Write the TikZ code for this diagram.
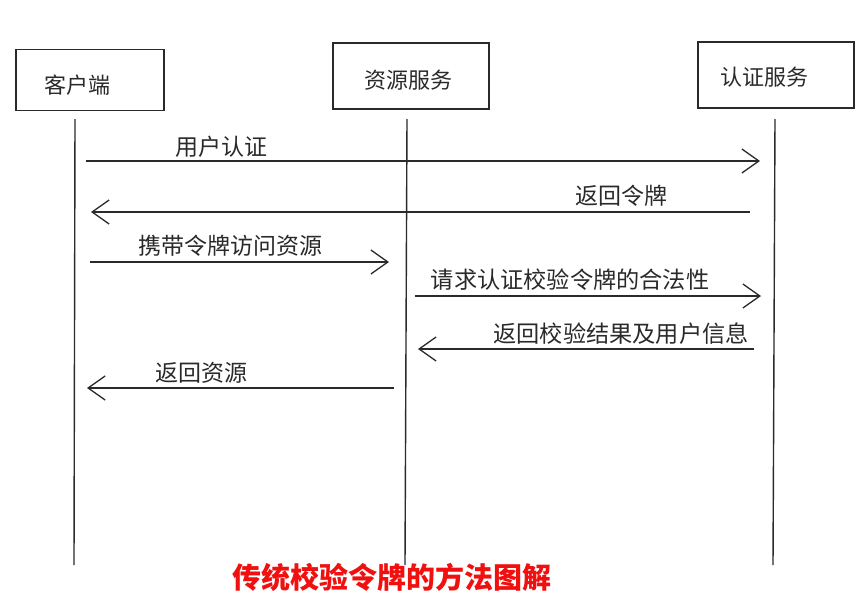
\documentclass[tikz,border=0pt]{standalone}
\usepackage{fontspec}
\setmainfont{Noto Sans CJK SC}
\usetikzlibrary{arrows.meta}
\definecolor{ink}{HTML}{2A2A2A}
\definecolor{titlered}{HTML}{F01010}
\tikzset{
  actor/.style={draw=ink, line width=1.4pt, minimum width=#1, inner sep=0pt},
  actortext/.style={inner sep=0pt, font=\fontsize{22}{24}\selectfont, text=ink},
  life/.style={draw=ink, line width=1.4pt},
  msg/.style={draw=ink, line width=1.3pt, -{Straight Barb[length=17pt, width=24pt, line width=1.3pt]}},
  lbl/.style={inner sep=0pt, font=\fontsize{23}{25}\selectfont, text=ink},
  lblb/.style={inner sep=0pt, font=\fontsize{23.2}{25}\selectfont, text=ink},
  titletext/.style={inner sep=0pt, text=titlered, font=\bfseries\fontsize{29}{31}\selectfont}
}
\begin{document}
\begin{tikzpicture}[x=1pt,y=-1pt]
\useasboundingbox[fill=white] (0,0) rectangle (868,606);
% actor boxes
\node[actor=148pt, minimum height=61pt] (client) at (90,80) {};
\node[actortext] (clientt) at (77,85) {客户端};
\node[actor=156pt, minimum height=66pt] (res) at (411,76) {};
\node[actortext] (rest) at (408,80) {资源服务};
\node[actor=156pt, minimum height=66pt] (auth) at (776,75) {};
\node[actortext] (autht) at (764,77) {认证服务};
% lifelines
\coordinate (c1) at (75,119); \coordinate (c2) at (74,565);
\coordinate (r1) at (407,119); \coordinate (r2) at (405,565);
\coordinate (a1) at (775,119); \coordinate (a2) at (773,565);
\draw[life] (c1) -- (c2);
\draw[life] (r1) -- (r2);
\draw[life] (a1) -- (a2);
% messages
\coordinate (m1s) at (86,161); \coordinate (m1e) at (760,161);
\coordinate (m2s) at (750,212); \coordinate (m2e) at (91,212);
\coordinate (m3s) at (90,262); \coordinate (m3e) at (389,262);
\coordinate (m4s) at (415,296); \coordinate (m4e) at (761,296);
\coordinate (m5s) at (754,349); \coordinate (m5e) at (418,349);
\coordinate (m6s) at (394,388); \coordinate (m6e) at (87,388);
\draw[msg] (m1s) -- (m1e);
\draw[msg] (m2s) -- (m2e);
\draw[msg] (m3s) -- (m3e);
\draw[msg] (m4s) -- (m4e);
\draw[msg] (m5s) -- (m5e);
\draw[msg] (m6s) -- (m6e);
% labels
\node[lbl] (l1) at (221,147) {用户认证};
\node[lbl] (l2) at (621,196) {返回令牌};
\node[lbl] (l3) at (230,246) {携带令牌访问资源};
\node[lblb] (l4) at (570,280) {请求认证校验令牌的合法性};
\node[lblb] (l5) at (621,334) {返回校验结果及用户信息};
\node[lbl] (l6) at (201,373) {返回资源};
% title
\node[titletext] (title) at (392,577) {传统校验令牌的方法图解};
\end{tikzpicture}
\end{document}
